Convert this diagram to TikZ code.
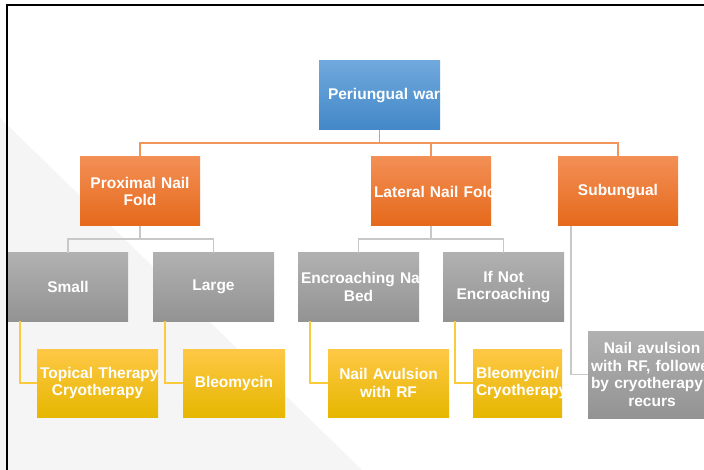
\documentclass[tikz,border=0pt]{standalone}
\usepackage{fontspec}
\setmainfont{Liberation Sans}
\definecolor{bggray}{HTML}{F5F5F5}
\definecolor{blueT}{HTML}{6FA8DC}
\definecolor{blueB}{HTML}{4388C8}
\definecolor{oraT}{HTML}{F38F55}
\definecolor{oraB}{HTML}{E5691B}
\definecolor{gryT}{HTML}{B1B1B1}
\definecolor{gryB}{HTML}{939393}
\definecolor{yelT}{HTML}{FEC846}
\definecolor{yelB}{HTML}{E6B700}
\definecolor{olinec}{HTML}{F0965C}
\definecolor{glinec}{HTML}{C8C8C8}
\definecolor{ylinec}{HTML}{FCCB3C}
\tikzset{
  boxbase/.style={rectangle, inner xsep=3pt, inner ysep=2pt, align=center, text=white,
    font=\fontsize{15.5}{17.8}\selectfont\bfseries},
  bluebox/.style={boxbase, top color=blueT, bottom color=blueB},
  orabox/.style={boxbase, top color=oraT, bottom color=oraB},
  grybox/.style={boxbase, top color=gryT, bottom color=gryB},
  yelbox/.style={boxbase, top color=yelT, bottom color=yelB},
  oline/.style={draw=olinec, line width=1.5pt},
  gline/.style={draw=glinec, line width=1.5pt},
  yline/.style={draw=ylinec, line width=1.5pt},
}
\newcommand{\bx}[7]{%
  \begin{scope}
    \clip ({#3-#5/2},{#4-#6/2}) rectangle ({#3+#5/2},{#4+#6/2});
    \pgfmathsetmacro{\twd}{#5-6}
    \node[#2, minimum width=#5pt, minimum height=#6pt, text width=\twd pt] (#1) at (#3,#4) {#7};
  \end{scope}}
\begin{document}
\begin{tikzpicture}[x=1pt,y=-1pt]
\useasboundingbox (0,0) rectangle (704,470);
\fill[white] (0,0) rectangle (704,470);
\fill[bggray] (0,118) -- (362,470) -- (0,470) -- cycle;
\draw[line width=1.6pt, black] (7,471) -- (7,5) -- (705,5);

% level 0
\bx{root}{bluebox}{379.5}{95.5}{121}{69}{\hspace*{6pt}\mbox{Periungual wart}}
% level 1
\bx{prox}{orabox}{140}{191.5}{120}{69}{\mbox{Proximal Nail}\\\mbox{Fold}}
\bx{lat}{orabox}{431}{191.5}{120}{69}{\mbox{Lateral Nail Fold}}
\bx{sub}{orabox}{618}{191.5}{120}{69}{\mbox{Subungual}}
% level 2
\bx{small}{grybox}{68}{287}{120}{68}{\mbox{Small}}
\bx{large}{grybox}{213.5}{287}{121}{68}{\mbox{Large}}
\bx{enc}{grybox}{358.5}{287}{121}{68}{\mbox{Encroaching Nail}\\\mbox{Bed}}
\bx{ifnot}{grybox}{503.5}{287}{121}{68}{\mbox{If Not}\\\mbox{Encroaching}}
% level 3
\bx{topical}{yelbox}{97.5}{383}{121}{68}{\mbox{Topical Therapy/}\\\mbox{Cryotherapy}}
\bx{bleo}{yelbox}{234}{383}{102}{68}{\mbox{Bleomycin}}
\bx{avul}{yelbox}{388.5}{383}{121}{68}{\mbox{Nail Avulsion}\\\mbox{with RF}}
\bx{bleocry}{yelbox}{517.5}{383}{89}{68}{\mbox{Bleomycin/}\\\mbox{Cryotherapy}}
\bx{final}{grybox}{652}{374.5}{128}{87}{\mbox{Nail avulsion}\\\mbox{with RF, followed}\\\mbox{by cryotherapy if}\\\mbox{recurs}}

% connectors
\draw[oline] (root.south) -- ++(0,13) -| (prox.north);
\draw[oline] (root.south) -- ++(0,13) -| (lat.north);
\draw[oline] (root.south) -- ++(0,13) -| (sub.north);

\draw[gline] (prox.south) -- ++(0,13) -| (small.north);
\draw[gline] (prox.south) -- ++(0,13) -| (large.north);
\draw[gline] (lat.south) -- ++(0,13) -| (enc.north);
\draw[gline] (lat.south) -- ++(0,13) -| (ifnot.north);

\draw[yline] ([xshift=12pt]small.south west) |- (topical.west);
\draw[yline] ([xshift=12pt]large.south west) |- (bleo.west);
\draw[yline] ([xshift=12pt]enc.south west) |- (avul.west);
\draw[yline] ([xshift=12pt]ifnot.south west) |- (bleocry.west);
\draw[gline] ([xshift=13pt]sub.south west) |- (final.west);
\end{tikzpicture}
\end{document}
